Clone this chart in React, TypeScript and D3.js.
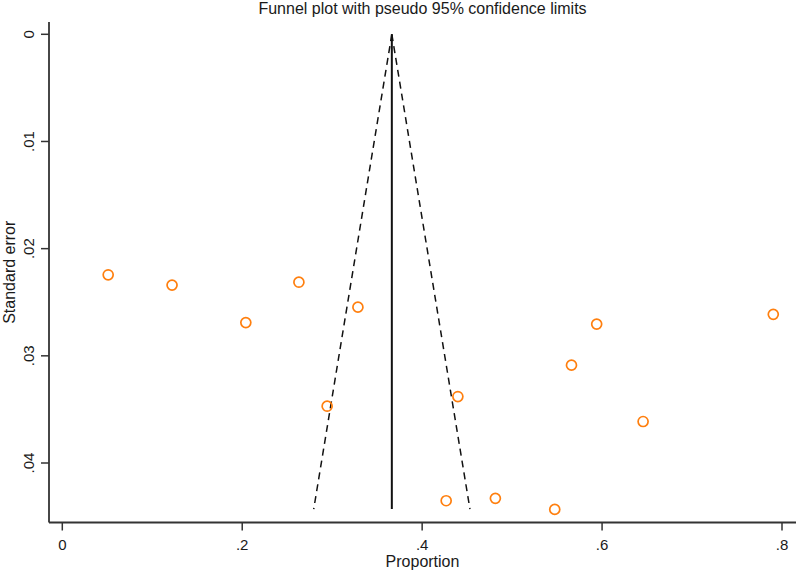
import React from "react";
import * as d3 from "d3";

const proportions = [0.051, 0.122, 0.204, 0.263, 0.3286, 0.2944, 0.4397, 0.594, 0.566, 0.6456, 0.7903, 0.4267, 0.4814, 0.5474];
const standardErrors = [0.02244, 0.0234, 0.0269, 0.02313, 0.02546, 0.0347, 0.0338, 0.02704, 0.03087, 0.03613, 0.02613, 0.04352, 0.0433, 0.04433];
const pooled = 0.3663;
const seMax = 0.0443;
const xTicks = [0, 0.2, 0.4, 0.6, 0.8];
const yTicks = [0, 0.01, 0.02, 0.03, 0.04];
const title = "Funnel plot with pseudo 95% confidence limits";
const xTitle = "Proportion";
const yTitle = "Standard error";

const fmt = (v: number) => (v === 0 ? "0" : String(v).replace(/^0/, ""));

export default function App() {
  const W = 797, H = 572;
  const axisX = 49, axisTop = 22, axisY = 522.5, axisRight = 796;
  const x = d3.scaleLinear().domain([0, 0.8]).range([62.3, 782]);
  const y = d3.scaleLinear().domain([0, 0.04]).range([34.3, 463]);
  const font = "'Liberation Sans', Arial, sans-serif";
  const axisColor = "#333";
  const z = 1.96;
  const leftLine = d3.line<[number, number]>()([[x(pooled), y(0)], [x(pooled - z * seMax), y(seMax)]]);
  const rightLine = d3.line<[number, number]>()([[x(pooled), y(0)], [x(pooled + z * seMax), y(seMax)]]);
  const cx = (axisX + axisRight) / 2;
  const cy = (axisTop + axisY) / 2;
  return (
    <svg width={W} height={H} style={{ position: "absolute", left: 0, top: 0, background: "#fff" }} fontFamily={font}>
      <rect x={0} y={0} width={W} height={H} fill="#fff" />
      <text x={cx} y={14} textAnchor="middle" fontSize={16} fill="#1a1a1a">{title}</text>
      {/* funnel */}
      <path d={leftLine!} stroke="#111" strokeWidth={1.5} strokeDasharray="7,5" fill="none" />
      <path d={rightLine!} stroke="#111" strokeWidth={1.5} strokeDasharray="7,5" fill="none" />
      <line x1={x(pooled)} x2={x(pooled)} y1={y(0)} y2={y(seMax)} stroke="#111" strokeWidth={2} />
      {/* points */}
      {proportions.map((p, i) => (
        <circle key={i} cx={x(p)} cy={y(standardErrors[i])} r={5} fill="none" stroke="#ff7f0e" strokeWidth={1.7} />
      ))}
      {/* axes */}
      <line x1={axisX} x2={axisX} y1={axisTop} y2={axisY} stroke={axisColor} strokeWidth={1.8} />
      <line x1={axisX} x2={axisRight} y1={axisY} y2={axisY} stroke={axisColor} strokeWidth={1.8} />
      {yTicks.map((t) => (
        <g key={t}>
          <line x1={axisX - 8} x2={axisX} y1={y(t)} y2={y(t)} stroke={axisColor} strokeWidth={1.5} />
          <text transform={`translate(33.5,${y(t)}) rotate(-90)`} textAnchor="middle" fontSize={15} fill="#1a1a1a">{fmt(t)}</text>
        </g>
      ))}
      {xTicks.map((t) => (
        <g key={t}>
          <line x1={x(t)} x2={x(t)} y1={axisY} y2={axisY + 8} stroke={axisColor} strokeWidth={1.5} />
          <text x={x(t)} y={550} textAnchor="middle" fontSize={15} fill="#1a1a1a">{fmt(t)}</text>
        </g>
      ))}
      <text x={cx} y={567} textAnchor="middle" fontSize={16} fill="#1a1a1a">{xTitle}</text>
      <text transform={`translate(15,${cy}) rotate(-90)`} textAnchor="middle" fontSize={16} fill="#1a1a1a">{yTitle}</text>
    </svg>
  );
}
